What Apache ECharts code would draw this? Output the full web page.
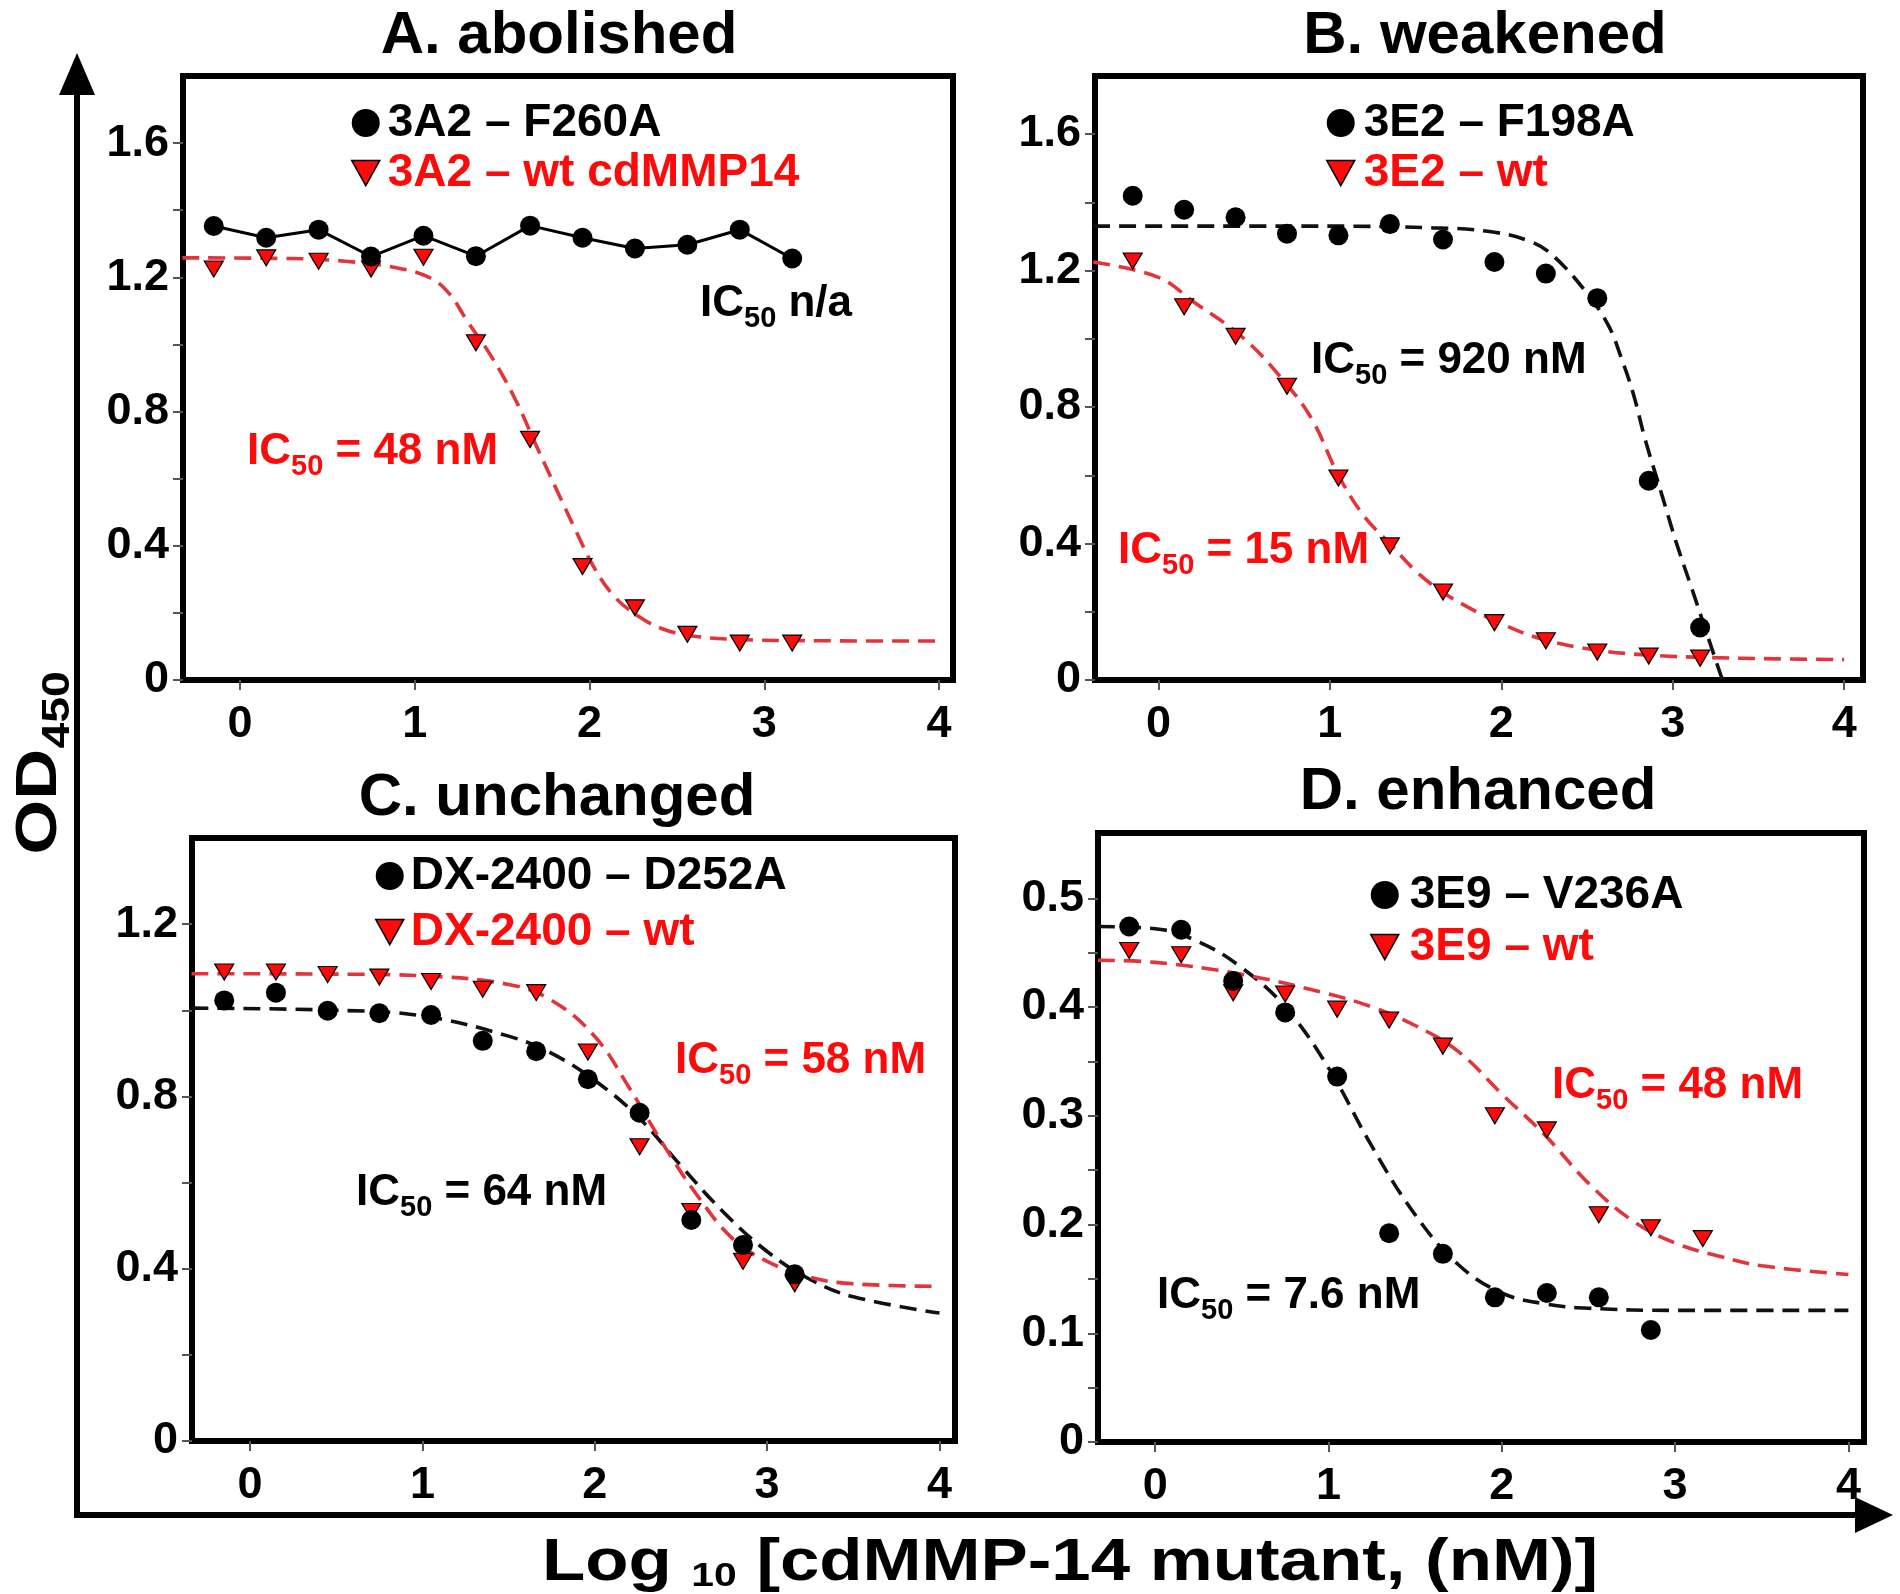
<!DOCTYPE html>
<html>
<head>
<meta charset="utf-8">
<script src="https://cdn.jsdelivr.net/npm/echarts@6/dist/echarts.min.js"></script>
<style>
  html, body { margin: 0; padding: 0; background: #fff; }
  #chart { width: 1900px; height: 1594px; }
</style>
</head>
<body>
<div id="chart"></div>
<script>
// ---- data (x = log10 [cdMMP-14 mutant, nM]) ----
const conc = [-0.15, 0.15, 0.45, 0.75, 1.05, 1.35, 1.66, 1.96, 2.26, 2.56, 2.86, 3.16];

// A. abolished
const aMutant = [1.353, 1.318, 1.342, 1.262, 1.324, 1.263, 1.354, 1.318, 1.286, 1.297, 1.342, 1.256];
const aWt = [1.225, 1.258, 1.248, 1.225, 1.260, 1.005, 0.717, 0.338, 0.215, 0.136, 0.110, 0.110];
const aFitWt = [[-0.33, 1.258], [0.3, 1.256], [0.6, 1.248], [0.9, 1.228], [1.09, 1.198], [1.2, 1.15],
  [1.3, 1.07], [1.44, 0.963], [1.57, 0.842], [1.69, 0.705], [1.81, 0.569], [1.92, 0.447], [2.02, 0.341],
  [2.14, 0.25], [2.28, 0.19], [2.42, 0.152], [2.58, 0.132], [2.84, 0.121], [3.3, 0.117], [4.0, 0.116]];

// B. weakened
const bMutant = [1.419, 1.378, 1.356, 1.308, 1.303, 1.336, 1.291, 1.225, 1.191, 1.119, 0.584, 0.154];
const bWt = [1.228, 1.094, 1.007, 0.861, 0.592, 0.393, 0.258, 0.168, 0.115, 0.082, 0.070, 0.064];
const bFitMutant = [[-0.38, 1.33], [1.0, 1.33], [1.6, 1.325], [1.92, 1.315], [2.17, 1.285], [2.31, 1.24],
  [2.52, 1.12], [2.63, 1.034], [2.70, 0.944], [2.77, 0.839], [2.84, 0.704], [2.93, 0.554], [3.02, 0.404],
  [3.11, 0.27], [3.19, 0.15], [3.28, 0.015], [3.32, -0.04]];
const bFitWt = [[-0.38, 1.225], [0, 1.18], [0.2, 1.11], [0.5, 1.0], [0.75, 0.865], [0.9, 0.76], [1.05, 0.6],
  [1.2, 0.48], [1.35, 0.40], [1.5, 0.32], [1.65, 0.26], [1.8, 0.215], [2.0, 0.165], [2.25, 0.118],
  [2.55, 0.088], [2.86, 0.073], [3.2, 0.066], [3.6, 0.062], [4.0, 0.06]];

// C. unchanged
const cMutant = [1.023, 1.041, 0.999, 0.993, 0.989, 0.929, 0.905, 0.840, 0.762, 0.513, 0.455, 0.387];
const cWt = [1.089, 1.089, 1.083, 1.077, 1.067, 1.049, 1.041, 0.903, 0.683, 0.533, 0.417, 0.365];
const cFitMutant = [[-0.34, 1.005], [0.5, 1.0], [1.0, 0.987], [1.5, 0.94], [1.75, 0.90], [2.0, 0.837],
  [2.25, 0.753], [2.5, 0.639], [2.75, 0.53], [3.0, 0.44], [3.25, 0.375], [3.5, 0.335], [4.0, 0.297]];
const cFitWt = [[-0.34, 1.085], [0.5, 1.084], [1.0, 1.08], [1.5, 1.06], [1.75, 1.023], [2.0, 0.939],
  [2.2, 0.82], [2.4, 0.687], [2.6, 0.567], [2.8, 0.47], [3.0, 0.417], [3.25, 0.38], [3.5, 0.365], [4.0, 0.359]];

// D. enhanced (mutant has no point at the top concentration)
const dMutant = [0.474, 0.471, 0.424, 0.395, 0.336, 0.192, 0.173, 0.133, 0.137, 0.133, 0.103];
const dWt = [0.452, 0.448, 0.413, 0.412, 0.398, 0.388, 0.364, 0.300, 0.287, 0.209, 0.197, 0.187];
const dFitMutant = [[-0.33, 0.474], [0, 0.472], [0.25, 0.46], [0.5, 0.436], [0.75, 0.40], [1.0, 0.344],
  [1.25, 0.272], [1.5, 0.209], [1.75, 0.163], [2.0, 0.137], [2.25, 0.127], [2.5, 0.123], [3.0, 0.121], [4.0, 0.121]];
const dFitWt = [[-0.33, 0.443], [0, 0.441], [0.5, 0.43], [1.0, 0.412], [1.25, 0.40], [1.5, 0.383],
  [1.75, 0.359], [2.0, 0.32], [2.25, 0.282], [2.5, 0.238], [2.75, 0.204], [3.0, 0.183], [3.25, 0.171],
  [3.5, 0.162], [4.0, 0.154]];

// tick labels
const xLabels = [0, 1, 2, 3, 4];
const yLabelsAB = [0, 0.4, 0.8, 1.2, 1.6];
const yTicksAB = [0, 0.2, 0.4, 0.6, 0.8, 1.0, 1.2, 1.4, 1.6];
const yLabelsC = [0, 0.4, 0.8, 1.2];
const yTicksC = [0, 0.2, 0.4, 0.6, 0.8, 1.0, 1.2];
const yLabelsD = [0, 0.1, 0.2, 0.3, 0.4, 0.5];
const yTicksD = [0, 0.05, 0.1, 0.15, 0.2, 0.25, 0.3, 0.35, 0.4, 0.45, 0.5];

const panelTitles = ['A. abolished', 'B. weakened', 'C. unchanged', 'D. enhanced'];
const mutantNames = ['3A2 – F260A', '3E2 – F198A', 'DX-2400 – D252A', '3E9 – V236A'];
const wtNames = ['3A2 – wt cdMMP14', '3E2 – wt', 'DX-2400 – wt', '3E9 – wt'];

// ---- styling ----
const FONT = '"Liberation Sans", Arial, Helvetica, sans-serif';
const RED = '#ff0a0a';
const RED_LINE = '#e2343a';
const TRI = 'path://M0,0L20,0L10,18Z';

const grids = [
  { left: 183, top: 76, width: 770, height: 604 },
  { left: 1095, top: 76, width: 768, height: 604 },
  { left: 192, top: 838, width: 763, height: 603 },
  { left: 1098, top: 833, width: 766, height: 609 }
];
const xRange = [[-0.326, 4.08], [-0.37, 4.11], [-0.337, 4.09], [-0.33, 4.09]];
const yRange = [[0, 1.8], [0, 1.77], [0, 1.4], [0, 0.56]];
const yLabels = [yLabelsAB, yLabelsAB, yLabelsC, yLabelsD];
const yTicks = [yTicksAB, yTicksAB, yTicksC, yTicksD];

const pair = (xs, ys) => ys.map((v, i) => [xs[i], v]);

const tickStyle = { color: '#555', width: 2 };
const labelStyle = { color: '#000', fontSize: 45, fontWeight: 'bold', fontFamily: FONT };

const xAxes = grids.map((g, i) => ({
  type: 'value', gridIndex: i, min: xRange[i][0], max: xRange[i][1],
  axisLine: { show: false, onZero: false }, splitLine: { show: false },
  axisTick: { show: true, customValues: xLabels, length: 10, lineStyle: tickStyle },
  axisLabel: Object.assign({ customValues: xLabels, margin: 22 }, labelStyle)
}));
const yAxes = grids.map((g, i) => ({
  type: 'value', gridIndex: i, min: yRange[i][0], max: yRange[i][1],
  axisLine: { show: false, onZero: false }, splitLine: { show: false },
  axisTick: { show: true, customValues: yTicks[i], length: 10, lineStyle: tickStyle },
  axisLabel: Object.assign({ customValues: yLabels[i], margin: 14 }, labelStyle)
}));

function fitLine(i, data, color) {
  return {
    type: 'line', xAxisIndex: i, yAxisIndex: i, data, smooth: 0.4,
    showSymbol: false, symbol: 'none', silent: true, z: 2,
    lineStyle: { color, width: 3.6, type: [17, 9] }
  };
}
function dots(i, name, data) {
  return {
    type: 'scatter', name, xAxisIndex: i, yAxisIndex: i, data, symbol: 'circle', symbolSize: 20,
    itemStyle: { color: '#000', opacity: 1 }, z: 4
  };
}
function tris(i, name, data) {
  return {
    type: 'scatter', name, xAxisIndex: i, yAxisIndex: i, data, symbol: TRI, symbolSize: [19, 16],
    itemStyle: { color: RED, borderColor: '#000', borderWidth: 1.2, opacity: 1 }, z: 3
  };
}

const series = [
  // A
  fitLine(0, aFitWt, RED_LINE),
  { type: 'line', xAxisIndex: 0, yAxisIndex: 0, data: pair(conc, aMutant), symbol: 'none', silent: true, z: 2,
    lineStyle: { color: '#000', width: 3 } },
  tris(0, wtNames[0], pair(conc, aWt)),
  dots(0, mutantNames[0], pair(conc, aMutant)),
  // B
  fitLine(1, bFitMutant, '#111'),
  fitLine(1, bFitWt, RED_LINE),
  tris(1, wtNames[1], pair(conc, bWt)),
  dots(1, mutantNames[1], pair(conc, bMutant)),
  // C
  fitLine(2, cFitMutant, '#111'),
  fitLine(2, cFitWt, RED_LINE),
  tris(2, wtNames[2], pair(conc, cWt)),
  dots(2, mutantNames[2], pair(conc, cMutant)),
  // D
  fitLine(3, dFitMutant, '#111'),
  fitLine(3, dFitWt, RED_LINE),
  tris(3, wtNames[3], pair(conc, dWt)),
  dots(3, mutantNames[3], pair(conc, dMutant))
];

// legend boxes: [left, top, gap, text padding]
const legendPos = [[351, 100, 4, 3], [1326, 100, 4, 4], [375, 853, 10, 2], [1370, 872, 6, 6]];
const legends = legendPos.map((p, i) => ({
  orient: 'vertical', left: p[0], top: p[1], itemGap: p[2], padding: 0,
  itemWidth: 28, itemHeight: 28, selectedMode: false,
  textStyle: { fontSize: 46, fontWeight: 'bold', fontFamily: FONT, lineHeight: 30, padding: [0, 0, 0, p[3]] },
  data: [
    { name: mutantNames[i], icon: 'circle', itemStyle: { color: '#000', opacity: 1 }, textStyle: { color: '#000' } },
    { name: wtNames[i], icon: TRI, itemStyle: { color: RED, borderColor: '#000', borderWidth: 1.5, opacity: 1 },
      textStyle: { color: RED } }
  ]
}));

// ---- text & decoration ----
// main text + lowered subscript (rich text, both top-aligned, subscript pushed down by padding)
function subText(x, y, parts, size, subSize, color, dropRatio, extra) {
  const drop = Math.round(size * dropRatio);
  return Object.assign({
    type: 'text', x, y, z: 10,
    style: {
      text: parts, align: 'left', verticalAlign: 'middle',
      rich: {
        m: { fontSize: size, fontWeight: 'bold', fontFamily: FONT, fill: color, lineHeight: size, verticalAlign: 'top' },
        s: { fontSize: subSize, fontWeight: 'bold', fontFamily: FONT, fill: color, lineHeight: subSize,
          verticalAlign: 'top', padding: [drop, 0, 0, 0] }
      }
    }
  }, extra || {});
}
const ic = (x, y, rest, color) => subText(x, y, `{m|IC}{s|50}{m|${rest}}`, 44, 29, color, 0.5);

const annotations = [
  ic(700, 304, ' n/a', '#000'),
  ic(247, 452, ' = 48 nM', RED),
  ic(1311, 361, ' = 920 nM', '#000'),
  ic(1118, 551, ' = 15 nM', RED),
  ic(675, 1061, ' = 58 nM', RED),
  ic(356, 1193, ' = 64 nM', '#000'),
  ic(1552, 1086, ' = 48 nM', RED),
  ic(1157, 1296, ' = 7.6 nM', '#000')
];

const titlePos = [[559, 36], [1485, 36], [557, 798], [1478, 792]];
const titles = panelTitles.map((t, i) => ({
  type: 'text', x: titlePos[i][0], y: titlePos[i][1], z: 10,
  style: { text: t, align: 'center', verticalAlign: 'middle', fontSize: 60, fontWeight: 'bold', fontFamily: FONT, fill: '#000' }
}));

// axis titles are set wide in the figure: stretch them along the text direction
const xTitle = subText(1070, 1564, '{m|Log }{s|10}{m| [cdMMP-14 mutant, (nM)]}', 59, 34, '#000', 0.42,
  { scaleX: 1.2 });
xTitle.style.align = 'center';
const yTitle = subText(40, 763, '{m|OD}{s|450}', 58, 38, '#000', 0.5,
  { rotation: Math.PI / 2, scaleX: 1.22 });
yTitle.style.align = 'center';

const frame = [
  { type: 'line', z: 5, shape: { x1: 77, y1: 1515, x2: 77, y2: 92 }, style: { stroke: '#000', lineWidth: 6 } },
  { type: 'polygon', z: 5, shape: { points: [[77, 53], [59, 95], [95, 95]] }, style: { fill: '#000' } },
  { type: 'line', z: 5, shape: { x1: 74, y1: 1515, x2: 1860, y2: 1515 }, style: { stroke: '#000', lineWidth: 6 } },
  { type: 'polygon', z: 5, shape: { points: [[1893, 1515], [1855, 1497], [1855, 1533]] }, style: { fill: '#000' } }
];

const chart = echarts.init(document.getElementById('chart'), null, { renderer: 'canvas' });
chart.setOption({
  animation: false,
  backgroundColor: '#fff',
  grid: grids.map(g => Object.assign({ show: true, borderColor: '#000', borderWidth: 6, backgroundColor: 'transparent' }, g)),
  xAxis: xAxes,
  yAxis: yAxes,
  legend: legends,
  series,
  graphic: [].concat(frame, titles, annotations, [xTitle, yTitle])
});
</script>
</body>
</html>
